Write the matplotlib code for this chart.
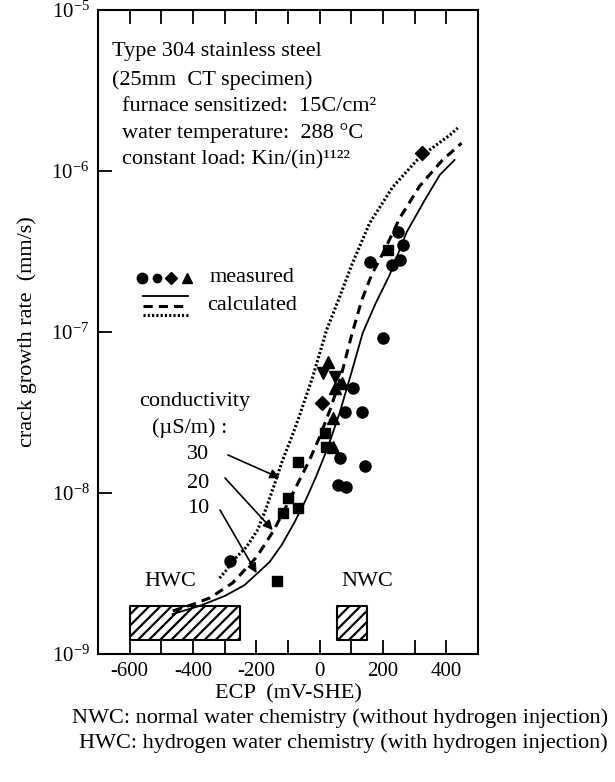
import math

import matplotlib
matplotlib.use("Agg")
import matplotlib.pyplot as plt
from matplotlib.ticker import FixedLocator, MultipleLocator, NullLocator, FuncFormatter

plt.rcParams["font.family"] = ["Liberation Serif", "DejaVu Serif"]
plt.rcParams["mathtext.fontset"] = "custom"
plt.rcParams["mathtext.rm"] = "Liberation Serif"
plt.rcParams["mathtext.it"] = "Liberation Serif:italic"
plt.rcParams["axes.unicode_minus"] = False
plt.rcParams["hatch.linewidth"] = 1.6

# ── calculated curves (conductivity 10 / 20 / 30 uS/m) ──────────────
ecp_10 = [-464, -379, -300, -237, -199, -158, -120, -79, -44, -13, 25, 63,
          101, 136, 177, 221, 275, 332, 379, 426]
rate_10 = [1.77e-9, 1.99e-9, 2.29e-9, 2.68e-9, 3.14e-9, 3.73e-9, 4.75e-9,
           6.6e-9, 9.05e-9, 1.24e-8, 1.9e-8, 3.14e-8, 5.65e-8, 9.86e-8,
           1.51e-7, 2.26e-7, 4.18e-7, 6.6e-7, 9.44e-7, 1.17e-6]

ecp_20 = [-464, -395, -347, -275, -199, -148, -111, -63, -32, 0, 35, 66,
          101, 133, 164, 205, 253, 316, 388, 448]
rate_20 = [1.85e-9, 2.05e-9, 2.23e-9, 2.76e-9, 4.0e-9, 5.73e-9, 7.84e-9,
           1.21e-8, 1.6e-8, 2.23e-8, 3.37e-8, 5.18e-8, 9.57e-8, 1.58e-7,
           2.26e-7, 3.23e-7, 5.1e-7, 8.07e-7, 1.17e-6, 1.49e-6]

ecp_30 = [-316, -294, -265, -231, -196, -171, -142, -117, -88, -63, -22,
          22, 63, 104, 158, 231, 316, 411, 436]
rate_30 = [2.96e-9, 3.33e-9, 3.95e-9, 4.62e-9, 5.89e-9, 7.84e-9, 1.14e-8,
           1.6e-8, 2.23e-8, 3.05e-8, 5.25e-8, 1.03e-7, 1.65e-7, 2.69e-7,
           4.75e-7, 7.96e-7, 1.22e-6, 1.67e-6, 1.85e-6]

# ── measured data ───────────────────────────────────────────────────
circle_ecp = [-284, 246, 262, 158, 227, 253, 199, 104, 79, 133, 63, 142, 57, 82]
circle_rate = [3.79e-9, 4.18e-7, 3.47e-7, 2.72e-7, 2.61e-7, 2.8e-7, 9.18e-8,
               4.49e-8, 3.19e-8, 3.19e-8, 1.65e-8, 1.47e-8, 1.12e-8, 1.09e-8]

square_ecp = [-69, -101, -69, -117, -136, 16, 19, 215]
square_rate = [1.56e-8, 9.3e-9, 8.07e-9, 7.52e-9, 2.84e-9, 2.36e-8, 1.93e-8, 3.23e-7]

diamond_ecp = [322, 6]
diamond_rate = [1.29e-6, 3.62e-8]

tri_up_ecp = [25, 70, 47, 41, 41]
tri_up_rate = [6.52e-8, 4.82e-8, 4.49e-8, 2.92e-8, 1.93e-8]

tri_down_ecp = [10, 47]
tri_down_rate = [5.56e-8, 5.25e-8]

# ECP ranges of the two water chemistries
hwc_ecp = [-600, -250]
nwc_ecp = [55, 150]
band_rate = [1.22e-9, 2.0e-9]

# arrow tips for the conductivity labels
cond_labels = ["30", "20", "10"]
cond_tip_ecp = [-126, -148, -199]
cond_tip_rate = [1.24e-8, 5.89e-9, 3.18e-9]

FS = 16

fig = plt.figure(figsize=(6.15, 7.82), dpi=100)
ax = fig.add_axes([0.1593, 0.1637, 0.6179, 0.8235])
ax.set_yscale("log")
ax.set_xlim(-700, 500)
ax.set_ylim(1e-9, 1e-5)

# ── hatched ECP bands ──────────────────────────────────────────────
for rng in (hwc_ecp, nwc_ecp):
    ax.fill_between(rng, band_rate[0], band_rate[1], facecolor="white",
                    edgecolor="black", hatch="///", linewidth=1.5, zorder=1)

# ── curves ─────────────────────────────────────────────────────────
ax.plot(ecp_10, rate_10, color="black", lw=1.3, zorder=2)
ax.plot(ecp_20, rate_20, color="black", lw=2.2, dashes=(3, 2), zorder=2)
ax.plot(ecp_30, rate_30, color="black", lw=2.2, dashes=(0.7, 0.7), zorder=2)

# ── measured points ────────────────────────────────────────────────
kw = dict(ls="none", color="black", zorder=3)
ax.plot(circle_ecp, circle_rate, marker="o", ms=8, **kw)
ax.plot(square_ecp, square_rate, marker="s", ms=7.5, **kw)
ax.plot(diamond_ecp, diamond_rate, marker="D", ms=7, **kw)
ax.plot(tri_up_ecp, tri_up_rate, marker="^", ms=8.5, **kw)
ax.plot(tri_down_ecp, tri_down_rate, marker="v", ms=8.5, **kw)

# ── axes styling ───────────────────────────────────────────────────
for sp in ax.spines.values():
    sp.set_linewidth(1.5)
ax.xaxis.set_major_locator(MultipleLocator(200))
ax.xaxis.set_minor_locator(MultipleLocator(100))
ax.xaxis.set_major_formatter(FuncFormatter(lambda v, p: f"{int(v)}"))
ax.yaxis.set_major_locator(FixedLocator([1e-9, 1e-8, 1e-7, 1e-6, 1e-5]))
ax.yaxis.set_minor_locator(NullLocator())
ax.yaxis.set_major_formatter(
    FuncFormatter(lambda v, p: r"$10^{%d}$" % round(math.log10(v))))
ax.tick_params(axis="x", which="both", direction="in", top=True, length=10,
               width=1.3, labelsize=15, pad=6)
ax.tick_params(axis="y", which="both", direction="in", right=False, length=10,
               width=1.3, labelsize=15, pad=6)

ax.set_xlabel("ECP  (mV-SHE)", fontsize=FS)
ax.xaxis.set_label_coords(0.5, -0.047)
ax.set_ylabel("crack growth rate  (mm/s)", fontsize=FS)
ax.yaxis.set_label_coords(-0.16, 0.5)

# ── specimen description ───────────────────────────────────────────
info = [
    (0.037, 0.9348, "Type 304 stainless steel"),
    (0.037, 0.8913, "(25mm  CT specimen)"),
    (0.063, 0.8494, "furnace sensitized:  15C/cm²"),
    (0.063, 0.8090, "water temperature:  288 °C"),
    (0.063, 0.7671, "constant load: Kin/(in)¹¹²²"),
]
for x, y, s in info:
    ax.text(x, y, s, transform=ax.transAxes, fontsize=FS, va="center", ha="left")

# ── legend (hand drawn) ────────────────────────────────────────────
lk = dict(transform=ax.transAxes, clip_on=False, color="black", ls="none")
ax.plot([0.117], [0.5839], marker="o", ms=7.5, **lk)
ax.plot([0.1545], [0.5839], marker="o", ms=6, **lk)
ax.plot([0.1913], [0.5839], marker="D", ms=6, **lk)
ax.plot([0.2356], [0.5845], marker="^", ms=7.5, **lk)
ax.text(0.2947, 0.5839, "measured", transform=ax.transAxes, fontsize=FS, va="center")
ax.plot([0.1184, 0.2368], [0.5559, 0.5559], transform=ax.transAxes, color="black", lw=1.3)
ax.plot([0.1184, 0.2368], [0.5404, 0.5404], transform=ax.transAxes, color="black",
        lw=2.2, dashes=(3, 2))
ax.plot([0.1184, 0.2368], [0.5264, 0.5264], transform=ax.transAxes, color="black",
        lw=2.2, dashes=(0.7, 0.7))
ax.text(0.2868, 0.5404, "calculated", transform=ax.transAxes, fontsize=FS, va="center")

# ── conductivity labels & arrows ───────────────────────────────────
ax.text(0.2553, 0.3913, "conductivity", transform=ax.transAxes, fontsize=FS,
        ha="center", va="center")
ax.text(0.2421, 0.3509, "(µS/m) :", transform=ax.transAxes, fontsize=FS,
        ha="center", va="center")
lab_y = [0.3090, 0.2655, 0.2252]
start_xy = [(0.3421, 0.3090), (0.3342, 0.2733), (0.3211, 0.2236)]
for lab, ly, st, tx, ty in zip(cond_labels, lab_y, start_xy, cond_tip_ecp, cond_tip_rate):
    ax.text(0.2632, ly, lab, transform=ax.transAxes, fontsize=FS, ha="center", va="center")
    ax.annotate("", xy=(tx, ty), xycoords="data", xytext=st, textcoords="axes fraction",
                arrowprops=dict(arrowstyle="-|>", color="black", lw=1.2,
                                mutation_scale=14, shrinkA=0, shrinkB=0), zorder=4)

ax.text(-470, 2.8e-9, "HWC", fontsize=FS, ha="center", va="center")
ax.text(152, 2.8e-9, "NWC", fontsize=FS, ha="center", va="center")

# ── caption ────────────────────────────────────────────────────────
fig.text(0.117, 0.0818, "NWC: normal water chemistry (without hydrogen injection)",
         fontsize=FS, va="center", ha="left")
fig.text(0.129, 0.0499, "HWC: hydrogen water chemistry (with hydrogen injection)",
         fontsize=FS, va="center", ha="left")

fig.savefig("out.png", dpi=100, facecolor="white")
